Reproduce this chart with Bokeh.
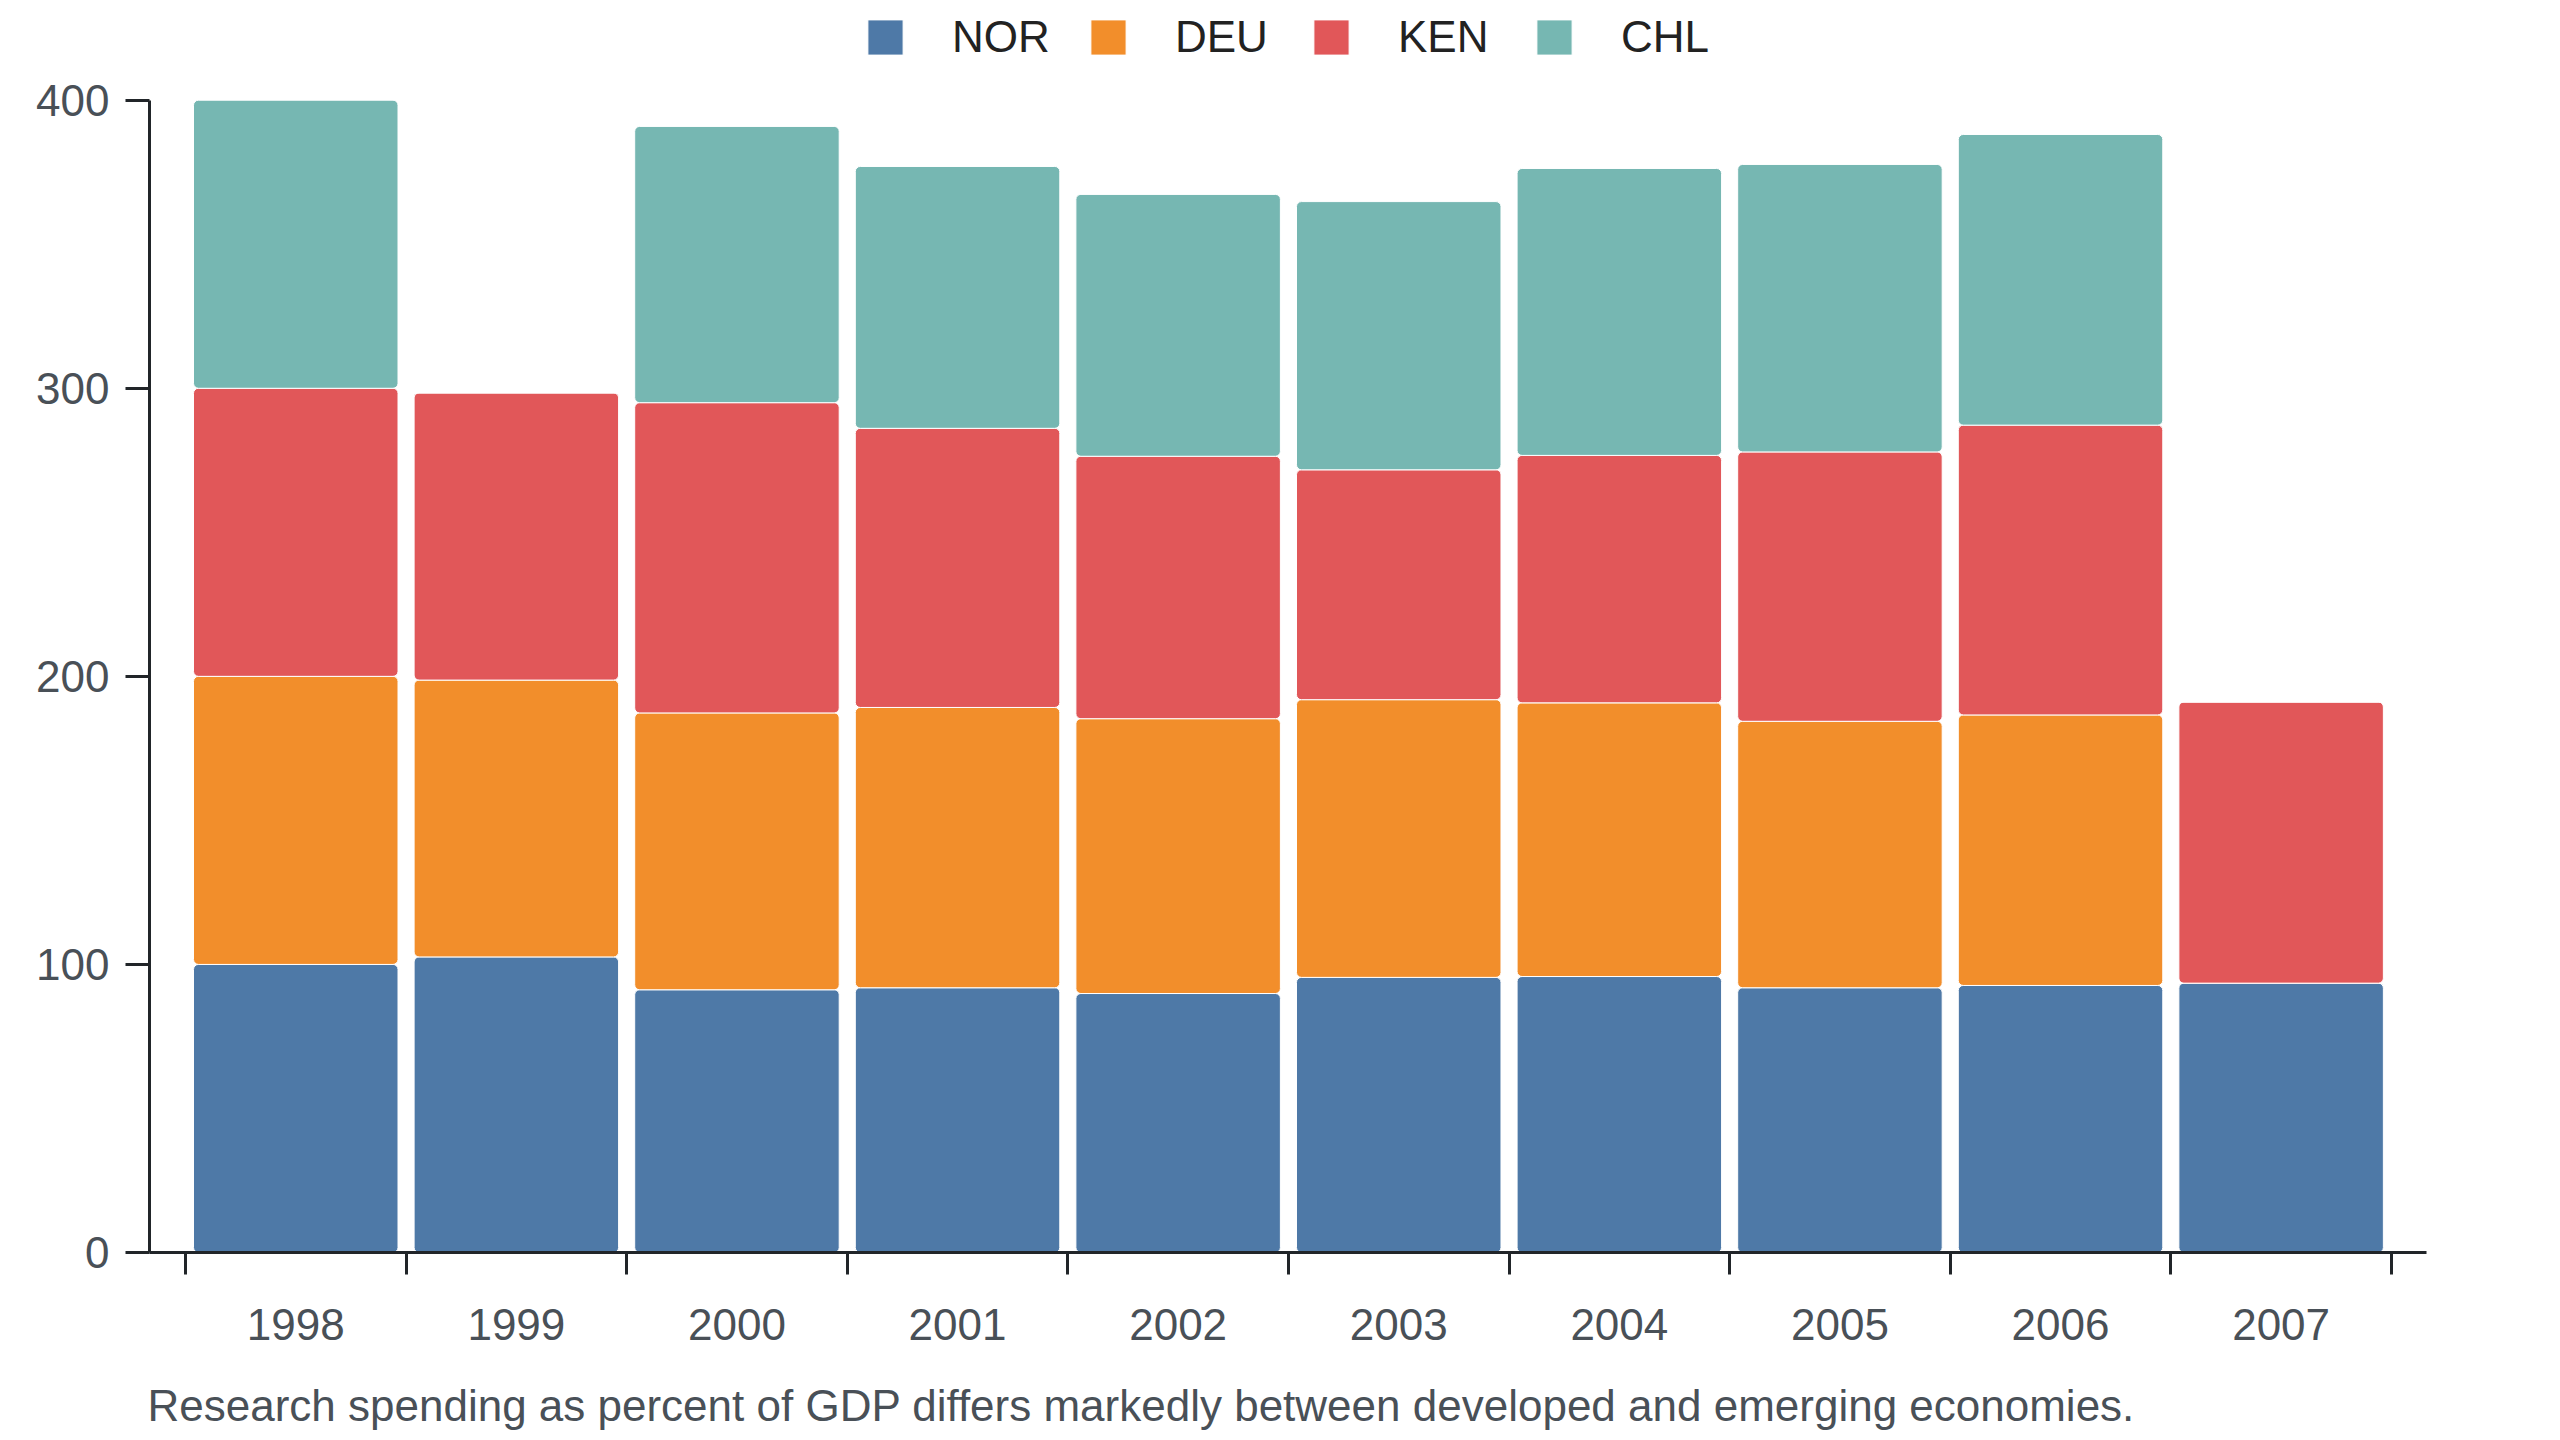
from bokeh.plotting import figure
from bokeh.models import Range1d, FixedTicker, Legend, LegendItem, ColumnDataSource
from bokeh.embed import file_html
from bokeh.resources import INLINE

years = [1998, 1999, 2000, 2001, 2002, 2003, 2004, 2005, 2006, 2007]
year_labels = ["1998", "1999", "2000", "2001", "2002", "2003", "2004", "2005", "2006", "2007"]
countries = ["NOR", "DEU", "KEN", "CHL"]
nor = [100, 102.6, 91.2, 91.9, 89.9, 95.5, 95.8, 91.9, 92.7, 93.5]
deu = [100, 96.1, 96.1, 97.3, 95.4, 96.4, 95.0, 92.5, 93.9, 0]
ken = [100, 99.7, 107.7, 96.9, 91.1, 79.8, 85.9, 93.5, 100.6, 97.6]
chl = [100, 0, 95.9, 90.9, 90.9, 93.1, 99.6, 99.8, 100.9, 0]
y_ticks = [0, 100, 200, 300, 400]
caption = "Research spending as percent of GDP differs markedly between developed and emerging economies."

colors = ["#4e79a7", "#f28e2b", "#e15759", "#76b7b2"]
FONT = "Liberation Sans"
AXIS = "#212529"
LABEL = "#495057"
FS = "44px"

src = ColumnDataSource(dict(year=years, NOR=nor, DEU=deu, KEN=ken, CHL=chl))

H = 1432
TOP_PAD = 5
FRAME_BOTTOM = 1256
PX_PER_UNIT = (FRAME_BOTTOM - 100) / 400.0
y_end = 400 + (100 - TOP_PAD) / PX_PER_UNIT

p = figure(width=2544, height=H,
           x_range=Range1d(1997.337, 2007.659), y_range=Range1d(0, y_end),
           output_backend="svg", toolbar_location=None,
           min_border_left=149, min_border_right=118,
           min_border_top=TOP_PAD, min_border_bottom=H - FRAME_BOTTOM)
p.xgrid.visible = False
p.ygrid.visible = False
p.outline_line_color = None
p.background_fill_color = "white"
p.border_fill_color = "white"

rs = p.vbar_stack(countries, x="year", width=0.927, source=src,
                  fill_color=colors, line_color="white", line_width=1,
                  border_radius=5)

legend = Legend(items=[LegendItem(label=c, renderers=[r]) for c, r in zip(countries, rs)],
                orientation="horizontal", location=(714, 1190),
                glyph_width=44, glyph_height=44, label_standoff=45,
                label_width=134, label_height=44, spacing=0, padding=0, margin=0,
                border_line_color=None, background_fill_alpha=0,
                label_text_font=FONT, label_text_font_size=FS,
                label_text_color="#222222")
p.add_layout(legend)

# y axis
ya = p.yaxis[0]
ya.ticker = FixedTicker(ticks=y_ticks)
ya.bounds = (0, 400)
ya.minor_tick_line_color = None
ya.major_tick_out = 24
ya.major_tick_in = 0
ya.major_tick_line_width = 3
ya.major_tick_line_color = AXIS
ya.axis_line_width = 3
ya.axis_line_color = AXIS
ya.major_label_standoff = 16
ya.major_label_text_font = FONT
ya.major_label_text_font_size = FS
ya.major_label_text_color = LABEL

# x axis
xa = p.xaxis[0]
xa.ticker = FixedTicker(ticks=years, minor_ticks=[y - 0.5 for y in years] + [years[-1] + 0.5])
xa.major_label_overrides = {y: l for y, l in zip(years, year_labels)}
xa.major_tick_out = 0
xa.major_tick_in = 0
xa.major_tick_line_color = None
xa.minor_tick_out = 22
xa.minor_tick_in = 0
xa.minor_tick_line_width = 3
xa.minor_tick_line_color = AXIS
xa.axis_line_width = 3
xa.axis_line_color = AXIS
xa.major_label_standoff = 34
xa.major_label_text_font = FONT
xa.major_label_text_font_size = FS
xa.major_label_text_color = LABEL

# caption as the x axis label; trailing no-break spaces shift the centred
# text so that it starts at the left edge of the plot frame
xa.axis_label = caption + "\u00a0" * 24
xa.axis_label_standoff = 38
xa.axis_label_text_font = FONT
xa.axis_label_text_font_size = FS
xa.axis_label_text_font_style = "normal"
xa.axis_label_text_color = LABEL
xa.axis_label_align = "center"

open("out.html", "w").write(file_html(p, INLINE))
